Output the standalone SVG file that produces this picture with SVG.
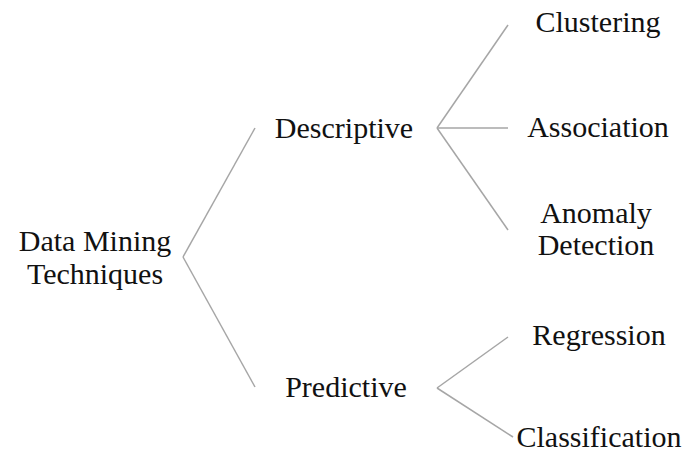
<svg xmlns="http://www.w3.org/2000/svg" width="685" height="454" viewBox="0 0 685 454">
<style>
.t text{font-size:30px;fill:#111;text-anchor:middle}
.c line{stroke:#a6a6a6;stroke-width:1.5;fill:none}
</style>
<rect width="685" height="454" fill="#fff"/>
<g class="c" id="connectors">
<line x1="183" y1="257" x2="255" y2="128"/>
<line x1="183" y1="257" x2="255" y2="387"/>
<line x1="437" y1="128" x2="508" y2="25"/>
<line x1="437" y1="128" x2="508" y2="128"/>
<line x1="437" y1="128" x2="508" y2="230"/>
<line x1="437" y1="388" x2="508" y2="337"/>
<line x1="437" y1="388" x2="513" y2="437"/>
</g>
<g class="t" font-family="'Liberation Serif', 'Times New Roman', 'DejaVu Serif', serif">
<g id="root"><text x="95" y="251">Data Mining</text><text x="95" y="284">Techniques</text></g>
<g id="descriptive"><text x="344" y="138">Descriptive</text></g>
<g id="predictive"><text x="346" y="397">Predictive</text></g>
<g id="clustering"><text x="598" y="32">Clustering</text></g>
<g id="association"><text x="598" y="137">Association</text></g>
<g id="anomaly"><text x="596" y="223">Anomaly</text><text x="596" y="255">Detection</text></g>
<g id="regression"><text x="599" y="345">Regression</text></g>
<g id="classification"><text x="599" y="447">Classification</text></g>
</g>
</svg>
